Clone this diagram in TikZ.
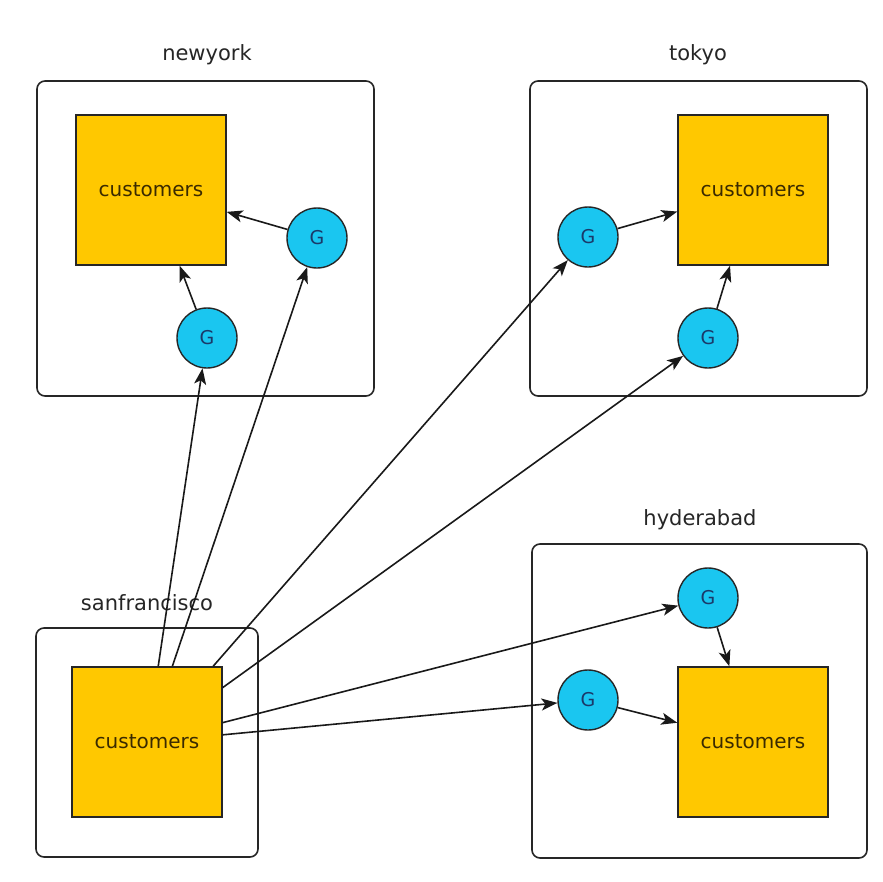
\documentclass[tikz,border=0pt]{standalone}
\usepackage{fontspec}
\setmainfont{DejaVu Sans}
\usetikzlibrary{arrows.meta}
\definecolor{cust}{HTML}{FFC800}
\definecolor{gcyan}{HTML}{1AC6F0}
\definecolor{custtext}{HTML}{3A2A00}
\definecolor{gtext}{HTML}{1A3A6A}
\begin{document}
\begin{tikzpicture}[x=1pt,y=-1pt,
 region/.style={draw=black!85, line width=1.6pt, rounded corners=8pt, fill=white, inner sep=0pt},
 custbox/.style={draw=black!85, fill=cust, line width=1.4pt, minimum width=150pt, minimum height=150pt, inner sep=0pt, font=\fontsize{20}{24}\selectfont, text=custtext},
 gnode/.style={circle, draw=black!85, fill=gcyan, line width=1.4pt, minimum size=60pt, inner sep=0pt, font=\fontsize{19}{23}\selectfont, text=gtext},
 title/.style={font=\fontsize{21}{25}\selectfont, text=black!85},
 conn/.style={line width=1.6pt, draw=black!90, -{Stealth[length=16pt,width=12pt,inset=4pt]}}]
\fill[white] (0,0) rectangle (883,881);
\useasboundingbox (0,0) rectangle (883,881);

% regions
\node[region, minimum width=337pt, minimum height=315pt] (nybox) at (205.5,238.5) {};
\node[title] (nylabel) at (207,55) {newyork};
\node[region, minimum width=337pt, minimum height=315pt] (tkbox) at (698.5,238.5) {};
\node[title] (tklabel) at (698,55) {tokyo};
\node[region, minimum width=335pt, minimum height=314pt] (hybox) at (699.5,701) {};
\node[title] (hylabel) at (700,520) {hyderabad};
\node[region, minimum width=222pt, minimum height=229pt] (sfbox) at (147,742.5) {};
\node[title] (sflabel) at (147,603) {sanfrancisco};

% customers
\node[custbox] (nyc) at (151,190) {customers};
\node[custbox] (tkc) at (753,190) {customers};
\node[custbox] (hyc) at (753,742) {customers};
\node[custbox] (sfc) at (147,742) {customers};

% gateways
\node[gnode] (nyg1) at (317,238) {G};
\node[gnode] (nyg2) at (207,338) {G};
\node[gnode] (tkg1) at (588,237) {G};
\node[gnode] (tkg2) at (708,338) {G};
\node[gnode] (hyg1) at (708,598) {G};
\node[gnode] (hyg2) at (588,700) {G};

% local arrows
\draw[conn] (nyg1) -- (nyc);
\draw[conn] (nyg2) -- (nyc);
\draw[conn] (tkg1) -- (tkc);
\draw[conn] (tkg2) -- (tkc);
\draw[conn] (hyg1) -- (hyc);
\draw[conn] (hyg2) -- (hyc);

% from sanfrancisco
\draw[conn] (sfc) -- (nyg2);
\draw[conn] (sfc) -- (nyg1);
\draw[conn] (sfc) -- (tkg1);
\draw[conn] (sfc) -- (tkg2);
\draw[conn] (sfc) -- (hyg1);
\draw[conn] (sfc) -- (hyg2);
\end{tikzpicture}
\end{document}
